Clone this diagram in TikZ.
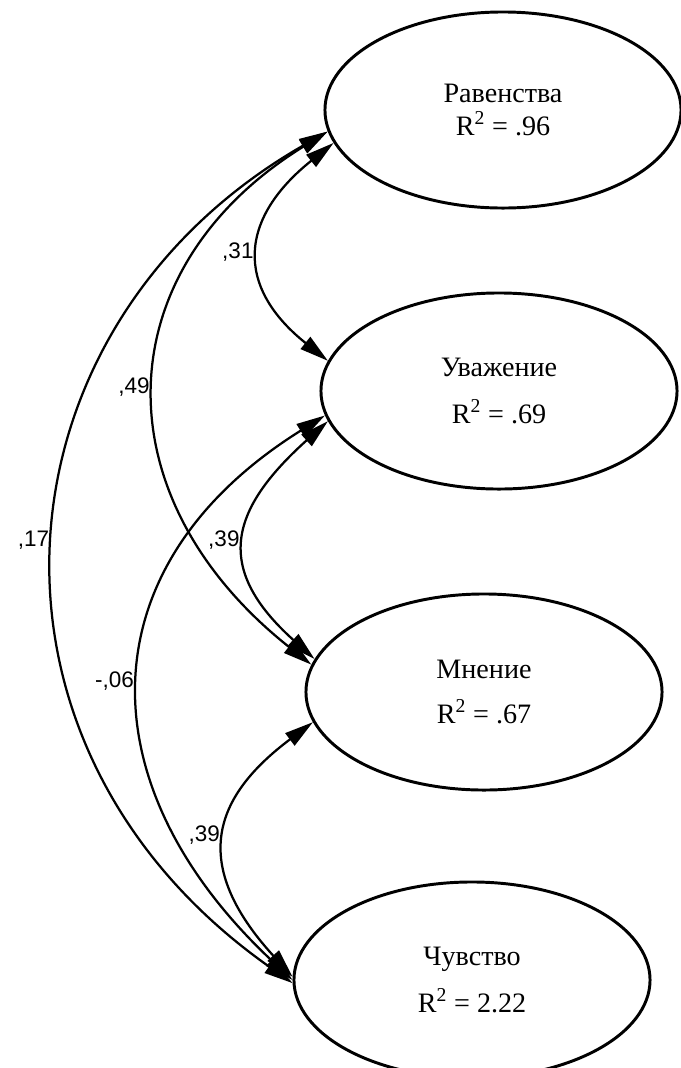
\documentclass[tikz,border=0pt]{standalone}
\usepackage{fontspec}
\setmainfont{Liberation Serif}
\newfontfamily\lblfont{Liberation Sans}
\usetikzlibrary{shapes.geometric,arrows.meta}

\begin{document}
\begin{tikzpicture}[x=0.025cm, y=0.025cm,
        latent/.style={ellipse, draw, line width=2.1pt, minimum width=8.9cm, minimum height=4.9cm, align=center, font=\fontsize{20}{24}\selectfont},
        corr/.style={>={Triangle[length=0.72cm,width=0.38cm]}, <->, line width=1.6pt},
        coef/.style={left, font=\lblfont\fontsize{16}{18}\selectfont, inner sep=4pt}]
        \useasboundingbox (0,0) rectangle (680,-1068);
        \node[latent] (rav) at (503,-110) {Равенства\\[-1pt]R\textsuperscript{2} = .96};
        \node[latent] (uva) at (499,-391) {Уважение\\[9pt]R\textsuperscript{2} = .69};
        \node[latent] (mne) at (484,-692) {Мнение\\[8pt]R\textsuperscript{2} = .67};
        \node[latent] (chu) at (472,-980) {Чувство\\[9pt]R\textsuperscript{2} = 2.22};
        \draw[corr] (rav.191) .. controls +(-94,-75) and +(-94,75) .. (uva.170) node[coef, pos=0.5] (k31) {,31};
        \draw[corr] (rav.187) .. controls +(-223,-138) and +(-212,168) .. (mne.171) node[coef, pos=0.5] (k49) {,49};
        \draw[corr] (rav.187) .. controls +(-339,-194) and +(-339,239) .. (chu.181) node[coef, pos=0.5] (k17) {,17};
        \draw[corr] (uva.190) .. controls +(-100,-90) and +(-100,90) .. (mne.169) node[coef, pos=0.5] (k39a) {,39};
        \draw[corr] (uva.188) .. controls +(-240,-150) and +(-208,195) .. (chu.180) node[coef, pos=0.5] (k06) {-,06};
        \draw[corr] (mne.190) .. controls +(-100,-75) and +(-103,113) .. (chu.179) node[coef, pos=0.5] (k39b) {,39};
    \end{tikzpicture}
\end{document}
